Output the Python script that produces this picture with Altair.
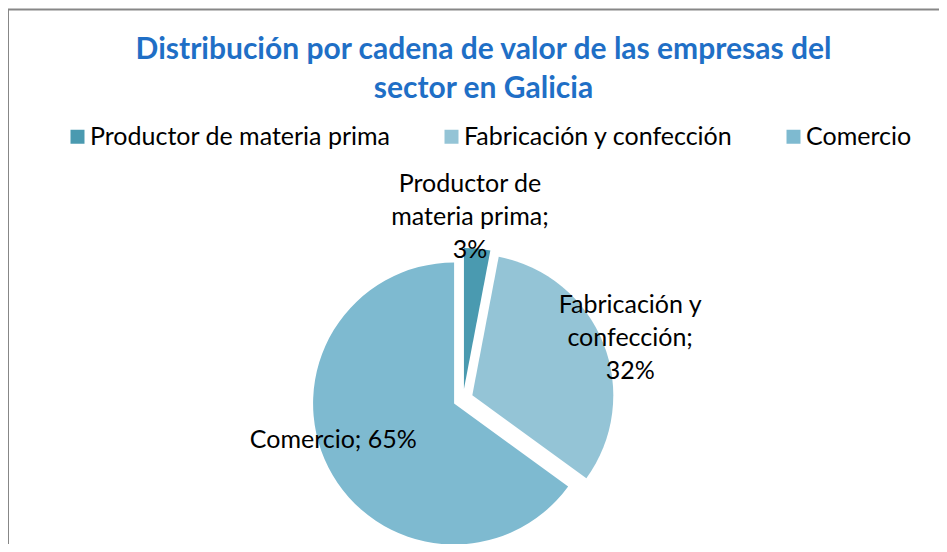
import altair as alt
import pandas as pd

# ---- data -------------------------------------------------------------
categories = ["Productor de materia prima", "Fabricación y confección", "Comercio"]
shares = [3, 32, 65]
data_labels = ["Productor de\nmateria prima;\n3%", "Fabricación y\nconfección;\n32%", "Comercio; 65%"]
title_lines = ["Distribución por cadena de valor de las empresas del", "sector en Galicia"]

# ---- style ------------------------------------------------------------
colors = ["#4A9AB0", "#94C4D6", "#7EBAD0"]
FONT = "Lato"
TXT = 25
LINE_H = 33
W, H = 931, 386
PAD_TOP = 150
CX, CY = 455, 241          # pie centre inside the plot area
RADIUS = 141
EXPLODE = 10
# label placement (radius in px, angular nudge in degrees) per category
label_place = {
    "Productor de materia prima": (182, -3.2),
    "Fabricación y confección": (178, 1.5),
    "Comercio": (136, 9.5),
}

df = pd.DataFrame({"cat": categories, "share": shares, "label": data_labels,
                   "order": list(range(len(categories)))})

lr_expr = " : ".join([f"datum.cat === '{k}' ? {v[0]}" for k, v in label_place.items()]) + " : 150"
la_expr = " : ".join([f"datum.cat === '{k}' ? {v[1]}" for k, v in label_place.items()]) + " : 0"

base = (
    alt.Chart(df)
    .transform_window(cum="sum(share)", sort=[alt.SortField("order")], frame=[None, 0])
    .transform_joinaggregate(total="sum(share)")
    .transform_calculate(
        t0="2*PI*(datum.cum - datum.share)/datum.total",
        t1="2*PI*datum.cum/datum.total",
    )
    .transform_calculate(mid="(datum.t0 + datum.t1)/2", lr=lr_expr, la=la_expr,
                         nl="length(split(datum.label, '\\n'))")
    .transform_calculate(
        sx=f"{CX} + {EXPLODE}*sin(datum.mid)",
        sy=f"{CY} - {EXPLODE}*cos(datum.mid)",
        lx=f"{CX} + datum.lr*sin(datum.mid + datum.la*PI/180)",
        ly=f"{CY} - datum.lr*cos(datum.mid + datum.la*PI/180) - (datum.nl - 1)*{LINE_H}/2",
    )
)

arcs = base.mark_arc(outerRadius=RADIUS, stroke=None).encode(
    theta=alt.Theta("t0:Q", scale=None, stack=None),
    theta2="t1:Q",
    x=alt.X("sx:Q", scale=None),
    y=alt.Y("sy:Q", scale=None),
    color=alt.Color(
        "cat:N",
        scale=alt.Scale(domain=categories, range=colors),
        sort=categories,
        legend=alt.Legend(
            orient="none", legendX=57, legendY=-34, direction="horizontal",
            title=None, symbolType="square", symbolSize=196, symbolStrokeWidth=0,
            symbolOpacity=1, labelFont=FONT, labelFontSize=TXT, labelColor="#000000",
            labelOffset=0, columnPadding=48, labelLimit=400, padding=0,
        ),
    ),
)

labels = base.mark_text(font=FONT, fontSize=TXT, color="#000000", lineBreak="\n",
                        lineHeight=LINE_H, align="center", baseline="middle").encode(
    x=alt.X("lx:Q", scale=None),
    y=alt.Y("ly:Q", scale=None),
    text="label:N",
)

frame_src = alt.Chart(alt.InlineData(values=[{"a": 1}]))
top_border = frame_src.mark_rule(color="#878787", strokeWidth=2).encode(
    x=alt.value(0), x2=alt.value(W), y=alt.value(-148.5))
left_border = frame_src.mark_rule(color="#878787", strokeWidth=2).encode(
    x=alt.value(0), y=alt.value(-148.5), y2=alt.value(H + 10))

chart = (
    alt.layer(top_border, left_border, arcs, labels)
    .properties(
        width=W, height=H,
        padding={"top": PAD_TOP, "left": 0, "right": 0, "bottom": 0},
        autosize=alt.AutoSizeParams(type="none"),
        title=alt.TitleParams(
            title_lines, font=FONT, fontSize=30, fontWeight="bold", color="#1F6FC6",
            lineHeight=39, anchor="middle", baseline="top", dx=10, offset=-95,
        ),
        background="white",
    )
    .configure_view(stroke=None)
)

chart.save("out.html", embed_options={"renderer": "svg", "actions": False})
